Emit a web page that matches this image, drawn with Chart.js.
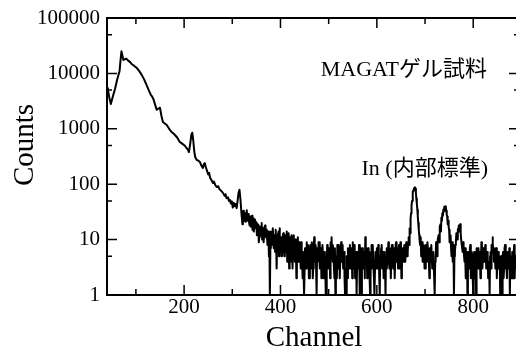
<!DOCTYPE html>
<html lang="ja">
<head>
    <meta charset="UTF-8">
    <title>MAGATゲル試料 スペクトル</title>
    <script src="https://cdn.jsdelivr.net/npm/chart.js"></script>
    <style>
        html, body {
            margin: 0;
            padding: 0;
            background: #fff;
            overflow: hidden;
        }
    </style>
</head>
<body>
    <canvas id="chartCanvas" width="522" height="350"></canvas>

    <script>
        // smooth part of the spectrum, read point by point
        const headChannels = [40, 42, 45, 48, 52, 57, 61, 66, 68, 70, 72, 74, 77, 80, 84, 88, 91, 96, 102, 107,
            112, 117, 122, 127, 131, 133, 136, 140, 143, 146, 150, 153, 156, 160, 164, 169, 174, 178, 181, 186,
            191, 196, 201, 205, 208, 210, 213, 215, 217, 219, 221, 223, 226, 230, 233, 236, 239, 241, 243, 245,
            247, 250, 252, 254, 257, 260, 262, 265, 268, 271, 273, 275, 278, 281, 284, 286, 288, 291, 293, 295,
            297, 299, 301, 303, 305, 307, 309, 311, 313, 315, 317, 319];
        const headCounts = [5400, 5000, 3600, 2800, 3800, 5400, 7700, 10900, 17000, 25000, 21000, 17500, 18000, 18500, 17000, 16000, 14800, 13800, 12500, 11000,
            9400, 7800, 6200, 4900, 4100, 3900, 3500, 2700, 2200, 2300, 2400, 1700, 1330, 1250, 1170, 1000, 875, 820, 773, 690,
            580, 540, 500, 450, 420, 380, 560, 780, 850, 620, 400, 310, 275, 265, 250, 215, 196, 230, 240, 205,
            180, 150, 160, 130, 118, 105, 112, 95, 89, 92, 82, 79, 74, 69, 62, 66, 56, 58, 50, 52,
            45, 49, 38, 46, 40, 44, 37, 50, 70, 79, 52, 30];

        // noisy part, one value per channel from tailStart (20 channels a row)
        const tailStart = 320;
        const tailStep = 1;
        const tailCounts = [
            24, 19, 28, 33, 22, 26, 30, 21, 26, 31, 34, 25, 22, 29, 27, 20, 18, 26, 24, 17,
            22, 27, 15, 20, 24, 14, 17, 23, 21, 16, 20, 12, 13, 19, 18, 9, 11, 16, 17, 12,
            15, 20, 10, 13, 16, 9, 12, 17, 18, 13, 11, 15, 14, 8, 11, 14, 5, 9, 1, 7,
            14, 8, 9, 13, 16, 11, 7, 12, 12, 6, 15, 9, 3, 8, 10, 13, 14, 5, 16, 11,
            6, 9, 11, 5, 8, 12, 13, 7, 5, 10, 12, 6, 10, 14, 4, 8, 9, 13, 3, 7,
            11, 4, 7, 12, 10, 3, 6, 9, 12, 5, 4, 10, 9, 2, 6, 8, 11, 4, 5, 9,
            8, 5, 3, 9, 7, 4, 2, 6, 6, 1, 1, 7, 6, 3, 9, 5, 4, 8, 7, 2,
            2, 6, 8, 3, 5, 9, 6, 2, 3, 7, 11, 5, 4, 8, 3, 1, 7, 4, 5, 9,
            9, 3, 4, 7, 6, 2, 3, 8, 8, 4, 2, 6, 5, 3, 1, 1, 4, 8, 7, 3,
            3, 7, 6, 2, 9, 5, 11, 6, 4, 8, 6, 3, 2, 7, 1, 4, 5, 2, 8, 4,
            3, 8, 6, 2, 4, 7, 9, 4, 5, 8, 3, 6, 6, 2, 1, 3, 1, 5, 5, 2,
            7, 4, 3, 6, 8, 3, 4, 7, 6, 2, 9, 5, 3, 8, 5, 2, 2, 6, 1, 4,
            6, 3, 4, 8, 1, 2, 5, 7, 1, 3, 7, 4, 3, 6, 6, 2, 11, 5, 4, 7,
            2, 5, 7, 3, 5, 2, 1, 6, 3, 8, 6, 4, 8, 3, 2, 1, 1, 6, 5, 3,
            7, 4, 3, 8, 6, 2, 1, 5, 4, 7, 8, 3, 5, 6, 2, 4, 6, 3, 1, 5,
            7, 3, 4, 6, 9, 5, 3, 7, 6, 2, 5, 8, 8, 4, 3, 6, 7, 2, 4, 8,
            9, 4, 5, 7, 3, 6, 8, 3, 4, 9, 6, 2, 3, 7, 7, 4, 5, 8, 8, 4,
            4, 9, 7, 5, 6, 9, 11, 8, 16, 13, 24, 30, 42, 50, 60, 72, 78, 83, 86, 88,
            84, 70, 55, 44, 35, 26, 20, 15, 12, 9, 8, 11, 5, 7, 9, 4, 4, 8, 7, 3,
            3, 6, 8, 4, 5, 9, 9, 5, 4, 2, 7, 4, 4, 8, 8, 3, 3, 6, 6, 2,
            1, 4, 5, 9, 7, 5, 9, 11, 12, 9, 15, 17, 19, 14, 25, 22, 30, 27, 35, 32,
            39, 34, 37, 40, 33, 28, 26, 19, 22, 17, 15, 9, 10, 12, 7, 5, 9, 6, 4, 8,
            1, 5, 6, 8, 9, 13, 12, 10, 15, 16, 18, 14, 17, 19, 13, 10, 10, 7, 6, 9,
            8, 5, 4, 7, 7, 2, 3, 6, 1, 4, 6, 3, 4, 7, 8, 2, 3, 6, 5, 2,
            1, 4, 6, 3, 2, 5, 1, 7, 5, 3, 7, 4, 3, 6, 6, 2, 4, 9, 8, 3,
            3, 7, 6, 4, 5, 8, 7, 3, 3, 6, 5, 2, 2, 4, 1, 5, 6, 3, 8, 6,
            11, 8, 7, 4, 5, 6, 3, 7, 7, 2, 4, 6, 6, 3, 3, 5, 1, 4, 5, 2,
            1, 5, 6, 2, 3, 7, 8, 4, 5, 3, 2, 6, 6, 3, 4, 7, 1, 4, 5, 2,
            3, 6, 4, 2, 6, 8, 2, 5, 5, 3, 3, 6, 7, 4, 4
        ];

        const xTicks = [200, 400, 600, 800];
        const xMinorTicks = [100, 300, 500, 700];
        const yTicks = [1, 10, 100, 1000, 10000, 100000];
        const yMinorTicks = [5, 50, 500, 5000, 50000];

        const sampleLabel = 'MAGATゲル試料';
        const peakLabel = 'In (内部標準)';
        const xTitle = 'Channel';
        const yTitle = 'Counts';

        const serif = "'Liberation Serif', 'Times New Roman', 'Noto Sans CJK JP', serif";

        const points = headChannels.map((c, i) => ({ x: c, y: headCounts[i] }));
        tailCounts.forEach((v, i) => points.push({ x: tailStart + i * tailStep, y: v }));

        // frame, inward ticks on all four sides, and the texts
        const frameAndText = {
            id: 'frameAndText',
            afterDraw(chart) {
                const { ctx, chartArea: a, scales: { x, y } } = chart;
                ctx.save();
                ctx.strokeStyle = '#000';
                ctx.lineWidth = 2;
                ctx.strokeRect(a.left, a.top, a.right - a.left, a.bottom - a.top);

                ctx.lineWidth = 1.5;
                ctx.beginPath();
                const xMark = (v, len) => {
                    const px = x.getPixelForValue(v);
                    ctx.moveTo(px, a.bottom); ctx.lineTo(px, a.bottom - len);
                    ctx.moveTo(px, a.top); ctx.lineTo(px, a.top + len);
                };
                const yMark = (v, len) => {
                    const py = y.getPixelForValue(v);
                    ctx.moveTo(a.left, py); ctx.lineTo(a.left + len, py);
                    ctx.moveTo(a.right, py); ctx.lineTo(a.right - len, py);
                };
                xTicks.forEach(v => xMark(v, 10));
                xMinorTicks.forEach(v => xMark(v, 6));
                yTicks.forEach(v => yMark(v, 10));
                yMinorTicks.forEach(v => yMark(v, 5));
                ctx.stroke();

                ctx.fillStyle = '#000';
                ctx.textBaseline = 'alphabetic';
                ctx.font = '22px ' + serif;
                ctx.textAlign = 'right';
                ctx.fillText(sampleLabel, 487, 76);
                ctx.fillText(peakLabel, 488, 175);

                ctx.font = '29px ' + serif;
                ctx.textAlign = 'center';
                ctx.fillText(xTitle, 314, 346);

                ctx.translate(33, 145);
                ctx.rotate(-Math.PI / 2);
                ctx.fillText(yTitle, 0, 0);
                ctx.restore();
            }
        };

        const ctx = document.getElementById('chartCanvas').getContext('2d');
        new Chart(ctx, {
            type: 'line',
            data: {
                datasets: [{
                    data: points,
                    borderColor: '#000',
                    borderWidth: 2,
                    borderJoinStyle: 'round',
                    pointRadius: 0,
                    fill: false,
                    tension: 0
                }]
            },
            options: {
                responsive: false,
                animation: false,
                devicePixelRatio: 1,
                layout: { padding: { top: 18, right: 3, left: 0, bottom: 0 } },
                plugins: {
                    legend: { display: false },
                    tooltip: { enabled: false }
                },
                scales: {
                    x: {
                        type: 'linear',
                        min: 40,
                        max: 895,
                        grid: { display: false, drawTicks: false },
                        border: { display: false },
                        afterBuildTicks: s => { s.ticks = xTicks.map(v => ({ value: v })); },
                        afterFit: s => { s.height = 55; },
                        ticks: {
                            color: '#000',
                            font: { family: serif, size: 21, lineHeight: 1 },
                            padding: 2,
                            maxRotation: 0
                        }
                    },
                    y: {
                        type: 'logarithmic',
                        min: 1,
                        max: 100000,
                        grid: { display: false, drawTicks: false },
                        border: { display: false },
                        afterBuildTicks: s => { s.ticks = yTicks.map(v => ({ value: v })); },
                        afterFit: s => { s.width = 107; },
                        ticks: {
                            color: '#000',
                            font: { family: serif, size: 21, lineHeight: 1 },
                            padding: 7,
                            callback: v => String(v)
                        }
                    }
                }
            },
            plugins: [frameAndText]
        });
    </script>
</body>
</html>
